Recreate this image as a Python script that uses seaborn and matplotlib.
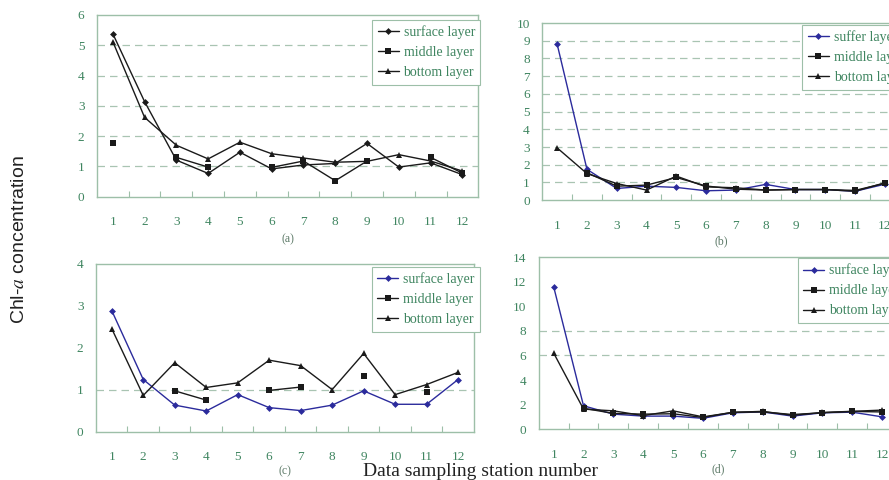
import numpy as np
import pandas as pd
import matplotlib
matplotlib.use("Agg")
import matplotlib.pyplot as plt
import seaborn as sns

# ---------------------------------------------------------------
# Data
# ---------------------------------------------------------------
stations = list(range(1, 13))
nan = np.nan

a_surface = [5.38, 3.14, 1.21, 0.77, 1.47, 0.92, 1.05, 1.10, 1.76, 0.98, 1.12, 0.73]
a_middle = [1.78, nan, 1.30, 0.98, nan, 0.97, 1.18, 0.53, 1.18, nan, 1.30, 0.78]
a_bottom = [5.12, 2.62, 1.70, 1.25, 1.80, 1.42, 1.28, 1.14, 1.17, 1.39, 1.18, 0.85]

b_surface = [8.80, 1.74, 0.66, 0.79, 0.72, 0.53, 0.57, 0.89, 0.60, 0.60, 0.50, 0.90]
b_middle = [nan, 1.55, 0.79, 0.85, 1.28, 0.80, 0.62, 0.57, 0.60, 0.60, 0.55, 0.95]
b_bottom = [2.95, 1.50, 0.94, 0.57, 1.36, 0.75, 0.70, 0.57, 0.60, 0.60, 0.50, 0.98]

c_surface = [2.89, 1.25, 0.64, 0.50, 0.89, 0.58, 0.51, 0.64, 0.98, 0.66, 0.66, 1.25]
c_middle = [nan, nan, 0.98, 0.76, nan, 0.99, 1.07, nan, 1.33, nan, 0.96, nan]
c_bottom = [2.46, 0.87, 1.65, 1.06, 1.17, 1.71, 1.58, 1.01, 1.87, 0.89, 1.13, 1.42]

d_surface = [11.6, 1.90, 1.22, 1.06, 1.06, 0.88, 1.33, 1.40, 1.06, 1.33, 1.38, 1.00]
d_middle = [nan, 1.70, 1.28, 1.22, 1.25, 0.95, 1.38, 1.40, 1.19, 1.33, 1.44, 1.40]
d_bottom = [6.20, 1.63, 1.49, 1.10, 1.49, 1.00, 1.36, 1.45, 1.12, 1.36, 1.45, 1.55]

labels_std = ["surface layer", "middle layer", "bottom layer"]
labels_b = ["suffer layer", "middle layer", "bottom layer"]

# ---------------------------------------------------------------
# Style
# ---------------------------------------------------------------
sns.set_theme(style="white")
plt.rcParams["font.family"] = ["Liberation Serif", "DejaVu Serif"]
plt.rcParams["mathtext.fontset"] = "stix"

GREEN = "#3f8560"
FRAME = "#9dbfa8"
GRID = "#a9c4b2"
BLUE = "#2b2b9c"
BLACK = "#1a1a1a"


def build_frame(surface, middle, bottom, labels):
    # long table, one segment id per unbroken run (gaps where a value is missing)
    rows = []
    for lab, vals in zip(labels, [surface, middle, bottom]):
        seg = 0
        prev_nan = True
        for st, v in zip(stations, vals):
            if np.isnan(v):
                prev_nan = True
                continue
            if prev_nan:
                seg += 1
            prev_nan = False
            rows.append({"station": st, "value": v, "layer": lab, "seg": seg})
    return pd.DataFrame(rows)


def draw_panel(ax, surface, middle, bottom, labels, surf_color, ylim, yticks,
               grid_levels, caption, anchor):
    df = build_frame(surface, middle, bottom, labels)
    palette = {labels[0]: surf_color, labels[1]: BLACK, labels[2]: BLACK}
    markers = {labels[0]: "D", labels[1]: "s", labels[2]: "^"}
    sizes = {"D": 3.5, "s": 4.5, "^": 5}

    for lab in labels:
        sub = df[df["layer"] == lab]
        first = True
        for seg, part in sub.groupby("seg"):
            sns.lineplot(data=part, x="station", y="value", ax=ax,
                         color=palette[lab], marker=markers[lab],
                         markersize=sizes[markers[lab]], markeredgewidth=0,
                         linewidth=1.0, label=lab if first else None,
                         legend=False, sort=False)
            first = False

    for g in grid_levels:
        ax.axhline(g, color=GRID, linestyle=(0, (6, 4)), linewidth=0.9, zorder=0)

    ax.set_xlim(0.5, 12.5)
    ax.set_ylim(*ylim)
    ax.set_yticks(yticks)
    ax.set_xticks(stations)
    ax.set_xticks([s + 0.5 for s in stations[:-1]], minor=True)
    ax.set_xlabel("")
    ax.set_ylabel("")
    ax.tick_params(axis="x", which="major", length=0, pad=14,
                   labelsize=9.5, labelcolor=GREEN)
    ax.tick_params(axis="x", which="minor", direction="in", length=4,
                   width=0.8, color=FRAME, bottom=True)
    ax.tick_params(axis="y", length=0, pad=9, labelsize=9.5, labelcolor=GREEN)
    for sp in ax.spines.values():
        sp.set_color(FRAME)
        sp.set_linewidth(1.0)

    ax.text(0.5, -0.2, caption, transform=ax.transAxes, ha="center",
            va="top", fontsize=8.5, color="#5d7a68")

    handles, labs = ax.get_legend_handles_labels()
    leg = ax.legend(handles, labs, loc="upper left", bbox_to_anchor=anchor,
                    fontsize=10, labelcolor=GREEN, frameon=True,
                    fancybox=False, edgecolor=FRAME, framealpha=1,
                    handlelength=1.5, handletextpad=0.35, labelspacing=0.5,
                    borderpad=0.4, borderaxespad=0)
    leg.get_frame().set_linewidth(0.8)


fig = plt.figure(figsize=(8.89, 4.8), dpi=100)

ax_a = fig.add_axes([0.109, 0.590, 0.429, 0.379])
ax_b = fig.add_axes([0.610, 0.583, 0.402, 0.369])
ax_c = fig.add_axes([0.108, 0.100, 0.425, 0.350])
ax_d = fig.add_axes([0.606, 0.106, 0.403, 0.358])

draw_panel(ax_a, a_surface, a_middle, a_bottom, labels_std, BLACK,
           (0, 6), range(0, 7), [1, 2, 3, 4, 5], "(a)", (0.722, 0.973))
draw_panel(ax_b, b_surface, b_middle, b_bottom, labels_b, BLUE,
           (0, 10), range(0, 11), [1, 2, 3, 4, 5, 6, 7, 8, 9], "(b)", (0.728, 0.989))
draw_panel(ax_c, c_surface, c_middle, c_bottom, labels_std, BLUE,
           (0, 4), range(0, 5), [1], "(c)", (0.730, 0.982))
draw_panel(ax_d, d_surface, d_middle, d_bottom, labels_std, BLUE,
           (0, 14), range(0, 15, 2), [6, 8], "(d)", (0.723, 0.995))

fig.text(0.022, 0.50, "Chl-$a$ concentration", rotation=90, ha="center",
         va="center", fontsize=14, color="#222222",
         family=["Liberation Sans", "DejaVu Sans"])
fig.text(0.54, 0.018, "Data sampling station number", ha="center",
         va="center", fontsize=14, color="#222222")

fig.savefig("out.png", dpi=100)
